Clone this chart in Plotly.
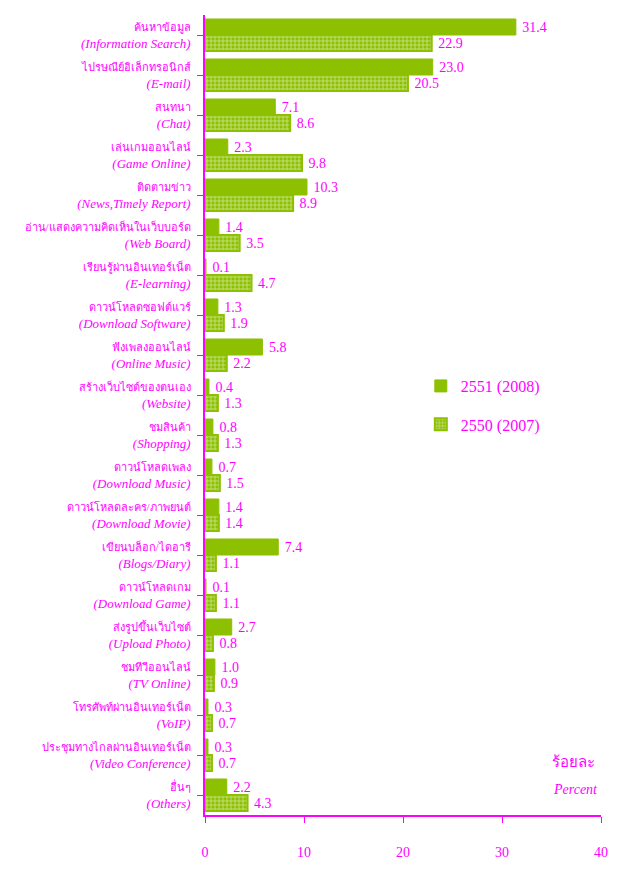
import plotly.graph_objects as go

categories_th = ["ค้นหาข้อมูล", "ไปรษณีย์อิเล็กทรอนิกส์", "สนทนา", "เล่นเกมออนไลน์", "ติดตามข่าว",
                 "อ่าน/แสดงความคิดเห็นในเว็บบอร์ด", "เรียนรู้ผ่านอินเทอร์เน็ต", "ดาวน์โหลดซอฟต์แวร์",
                 "ฟังเพลงออนไลน์", "สร้างเว็บไซต์ของตนเอง", "ชมสินค้า", "ดาวน์โหลดเพลง",
                 "ดาวน์โหลดละคร/ภาพยนต์", "เขียนบล็อก/ไดอารี", "ดาวน์โหลดเกม", "ส่งรูปขึ้นเว็บไซต์",
                 "ชมทีวีออนไลน์", "โทรศัพท์ผ่านอินเทอร์เน็ต", "ประชุมทางไกลผ่านอินเทอร์เน็ต", "อื่นๆ"]
categories_en = ["(Information Search)", "(E-mail)", "(Chat)", "(Game Online)", "(News,Timely Report)",
                 "(Web Board)", "(E-learning)", "(Download Software)", "(Online Music)", "(Website)",
                 "(Shopping)", "(Download Music)", "(Download Movie)", "(Blogs/Diary)", "(Download Game)",
                 "(Upload Photo)", "(TV Online)", "(VoIP)", "(Video Conference)", "(Others)"]
values_2551 = [31.4, 23.0, 7.1, 2.3, 10.3, 1.4, 0.1, 1.3, 5.8, 0.4, 0.8, 0.7, 1.4, 7.4, 0.1, 2.7, 1.0, 0.3, 0.3, 2.2]
values_2550 = [22.9, 20.5, 8.6, 9.8, 8.9, 3.5, 4.7, 1.9, 2.2, 1.3, 1.3, 1.5, 1.4, 1.1, 1.1, 0.8, 0.9, 0.7, 0.7, 4.3]
series_names = ["2551 (2008)", "2550 (2007)"]
x_ticks = [0, 10, 20, 30, 40]

MAG = "#FF00FF"
GREEN = "#8CC000"
FONT = "Liberation Serif, Noto Sans, serif"

ticktext = [f"<span style='font-size:11px'>{t}</span><br><i>{e}</i>"
            for t, e in zip(categories_th, categories_en)]
ids = list(range(len(categories_th)))

fig = go.Figure()
fig.add_trace(go.Bar(
    y=ids, x=values_2551, orientation="h", name=series_names[0],
    marker=dict(color=GREEN, line=dict(color=GREEN, width=1)),
    text=values_2551, texttemplate=" %{x:.1f}", textposition="outside",
    textfont=dict(color=MAG, size=14, family=FONT), cliponaxis=False,
    legend="legend",
))
fig.add_trace(go.Bar(
    y=ids, x=values_2550, orientation="h", name=series_names[1],
    marker=dict(color=GREEN, line=dict(color=GREEN, width=2),
                pattern=dict(shape="+", fgcolor="white", bgcolor=GREEN, size=4, solidity=0.4)),
    text=values_2550, texttemplate=" %{x:.1f}", textposition="outside",
    textfont=dict(color=MAG, size=14, family=FONT), cliponaxis=False,
    legend="legend2",
))

fig.update_layout(
    width=626, height=874,
    margin=dict(l=197, r=33, t=7, b=67, autoexpand=False),
    paper_bgcolor="white", plot_bgcolor="white",
    barmode="group", bargap=0.2, bargroupgap=0,
    font=dict(family=FONT, color=MAG, size=12),
    showlegend=True,
    legend=dict(x=0.545, y=0.5575, xanchor="left", yanchor="top", bgcolor="rgba(0,0,0,0)",
                font=dict(size=16, color=MAG, family=FONT)),
    legend2=dict(x=0.545, y=0.5095, xanchor="left", yanchor="top", bgcolor="rgba(0,0,0,0)",
                 font=dict(size=16, color=MAG, family=FONT)),
    xaxis=dict(range=[0, 40], tickvals=x_ticks, showgrid=False, zeroline=False,
               showline=True, linecolor=MAG, linewidth=1.5, ticks="outside", ticklen=6,
               tickcolor=MAG, tickfont=dict(color=MAG, size=14, family=FONT),
               ticklabelstandoff=17, automargin=False),
    yaxis=dict(tickvals=ids, ticktext=ticktext, autorange="reversed", tickson="boundaries",
               showgrid=False, zeroline=False, showline=True, linecolor=MAG, linewidth=1.5,
               ticks="outside", ticklen=6, tickcolor=MAG, ticklabelstandoff=4, automargin=False,
               tickfont=dict(color=MAG, size=13, family=FONT)),
    annotations=[
        dict(text="ร้อยละ", x=0.99, y=0.054, xref="paper", yref="paper", showarrow=False,
             xanchor="right", font=dict(size=15, color=MAG, family=FONT)),
        dict(text="<i>Percent</i>", x=0.998, y=0.02, xref="paper", yref="paper", showarrow=False,
             xanchor="right", font=dict(size=14, color=MAG, family=FONT)),
    ],
)

fig.write_html("out.html")
